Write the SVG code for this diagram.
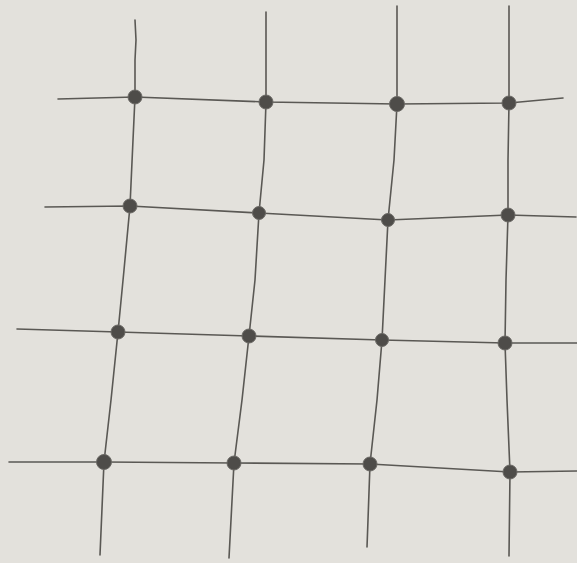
<svg xmlns="http://www.w3.org/2000/svg" width="577" height="563" viewBox="0 0 577 563">
<style>
.ln{fill:none;stroke:#5a5854;stroke-width:1.6;stroke-linecap:round;stroke-linejoin:round}
.dot{fill:#4e4c49;stroke:#6a6864;stroke-width:1}
</style>
<rect width="577" height="563" fill="#e3e1dc"/>
<g id="connectors">
<polyline class="ln" points="135,20 136,40 135,60 135,97 133,140 130,206 124,270 118,332 111,400 104,462 100,555"/>
<polyline class="ln" points="266,12 266,60 266,102 264,160 259,213 255,280 249,336 242,400 234,463 229,558"/>
<polyline class="ln" points="397,6 397,60 397,104 394,160 388,220 385,280 382,340 377,400 370,464 368,520 367,547"/>
<polyline class="ln" points="509,6 509,60 509,103 508,160 508,215 506,280 505,343 507,400 510,472 509,556"/>
<polyline class="ln" points="58,99 135,97 266,102 397,104 509,103 563,98"/>
<polyline class="ln" points="45,207 130,206 259,213 388,220 508,215 576,217"/>
<polyline class="ln" points="17,329 118,332 249,336 382,340 505,343 577,343"/>
<polyline class="ln" points="9,462 104,462 234,463 370,464 510,472 577,471"/>
</g>
<g id="n11"><circle class="dot" cx="135" cy="97" r="7"/></g>
<g id="n12"><circle class="dot" cx="266" cy="102" r="7"/></g>
<g id="n13"><circle class="dot" cx="397" cy="104" r="7.5"/></g>
<g id="n14"><circle class="dot" cx="509" cy="103" r="7"/></g>
<g id="n21"><circle class="dot" cx="130" cy="206" r="7"/></g>
<g id="n22"><circle class="dot" cx="259" cy="213" r="6.5"/></g>
<g id="n23"><circle class="dot" cx="388" cy="220" r="6.5"/></g>
<g id="n24"><circle class="dot" cx="508" cy="215" r="7"/></g>
<g id="n31"><circle class="dot" cx="118" cy="332" r="7"/></g>
<g id="n32"><circle class="dot" cx="249" cy="336" r="7"/></g>
<g id="n33"><circle class="dot" cx="382" cy="340" r="6.5"/></g>
<g id="n34"><circle class="dot" cx="505" cy="343" r="7"/></g>
<g id="n41"><circle class="dot" cx="104" cy="462" r="7.5"/></g>
<g id="n42"><circle class="dot" cx="234" cy="463" r="7"/></g>
<g id="n43"><circle class="dot" cx="370" cy="464" r="7"/></g>
<g id="n44"><circle class="dot" cx="510" cy="472" r="7"/></g>
</svg>
